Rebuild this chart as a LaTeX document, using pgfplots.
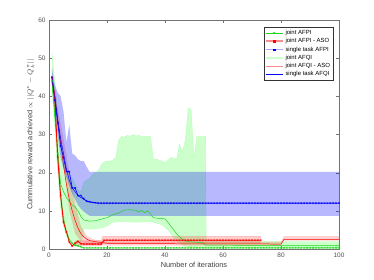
\documentclass[border=0pt]{standalone}
\usepackage{pgfplots}
\pgfplotsset{compat=1.18}
\usepackage{fontspec}
\setmainfont{Liberation Sans}
\definecolor{cgreen}{rgb}{0.1,0.85,0.1}
\definecolor{axgray}{rgb}{0.45,0.45,0.45}
\begin{document}
\begin{tikzpicture}
\begin{axis}[
  scale only axis, width=290bp, height=229bp,
  xmin=0, xmax=100, ymin=0, ymax=60,
  xtick={0,20,...,100}, ytick={0,10,...,60},
  tick align=inside, major tick length=3bp,
  axis line style={axgray}, tick style={axgray},
  /pgf/number format/assume math mode=true,
  tick label style={font=\fontsize{6.5}{7}\selectfont, text=axgray!70!black},
  label style={font=\fontsize{7.4}{8}\selectfont, text=black!75},
  xlabel={Number of iterations},
  ylabel={Cummulative reward achieved $\propto$ $||Q^{*} - Q^{\pi}_{k}||$},
  xlabel style={yshift=2bp}, ylabel style={yshift=-3bp},
  legend style={at={(rel axis cs:0.98,0.97)}, anchor=north east,
    font=\fontsize{6}{6.5}\selectfont, draw=black!80, inner sep=1pt, row sep=-1.5pt,
    legend cell align=left},
  every axis plot/.append style={forget plot},
]
% joint AFQI band (green)
\addplot[fill=green, fill opacity=0.2, draw=green!60, draw opacity=0.4, line width=0.3pt] coordinates {
(1,51.5)(2,44)(3,35)(4,28)(5,24)(6,21)(7,19.5)(8,18.5)(9,17)(10,15.5)(11,15)(12,17.5)(13,18)(14,18.5)(15,19.5)(16,20)(17,20.5)(18,22)(19,22.8)(20,23)(21,23)(22,23.3)(23,24)(24,28.5)(25,29.5)(26,29.3)(27,29.8)(28,29.5)(29,30)(30,29.6)(31,29.8)(32,29.4)(33,29.5)(34,29.5)(35,29.5)(36,23.5)(37,23.5)(38,23.3)(39,23)(40,22.6)(41,23.2)(42,24)(43,23.8)(44,23.5)(45,27.5)(46,25.5)(47,28.5)(48,37)(49,36.5)(50,24)(51,29.5)(52,29.5)(53,29.5)(54,29.5)(54.2,1.9)(100,1.9)
(100,0.3)(54,0.4)(50,0.5)(47,0.7)(45,1.5)(43,3)(41,5)(39,6.3)(37,6.8)(35,7.2)(30,7)(25,7.2)(22,7)(20,6)(18,5.5)(16,5.3)(14,5.2)(12,5.3)(11,1)(10,1)(9,1)(8,1.2)(7,2)(6,3.5)(5,6)(4,11)(3,20)(2,32)(1,42)};
% joint AFQI - ASO band (red)
\addplot[fill=red, fill opacity=0.18, draw=none] coordinates {
(1,46)(3,37)(5,29)(7,20)(9,12)(11,6)(13,3.5)(15,2.6)(18,2.2)(20,1.9)(80,1.9)(81,3.4)(100,3.4)
(100,2.2)(81,2.2)(80,0.9)(20,0.9)(13,1.2)(11,2)(9,4)(7,10)(5,22)(3,33)(1,44)};
% joint AFPI - ASO band (red)
\addplot[fill=red, fill opacity=0.2, draw=red!50, draw opacity=0.5, line width=0.3pt] coordinates {
(9,2.2)(18,2.2)(18.5,3.3)(73,3.3)(73,1.5)(18.5,1.5)(18,0.8)(9,0.8)};
% single task band (blue)
\addplot[fill=blue, fill opacity=0.28, draw=none] coordinates {
(1,47.5)(2,43)(3,41)(4,40)(5,36)(6,28)(7,32.5)(8,25)(9,24.5)(10,23.5)(11,23)(12,23)(13,21.5)(14,20.2)(100,20.2)
(100,8.7)(14,8.7)(13,9.2)(12,9.8)(11,10.5)(10,11.5)(9,13)(8,14.5)(7,16.5)(6,19)(5,21)(4,24)(3,30)(2,37)(1,43)};
% joint AFQI mean (green thin)
\addplot[cgreen, line width=0.5pt] coordinates {
(1,44)(2,36)(3,26)(4,17)(5,15)(6,13.5)(7,12.5)(8,11.5)(9,11)(10,10)(11,8.5)(12,7.6)(14,7.3)(16,7.4)(18,7.8)(20,8.2)(22,9)(24,9.4)(26,10.2)(28,10.3)(30,10.1)(31,9.7)(32,10.1)(33,9.5)(34,10)(35,9.2)(36,8.2)(38,8)(40,7.9)(41,7)(42,6)(43,5)(44,4)(45,3.2)(46,2.6)(47,2.1)(48,1.9)(50,1.8)(53,1.7)(54,1.0)(100,0.9)};
% joint AFQI - ASO mean (red thin)
\addplot[red, line width=0.5pt] coordinates {
(1,45)(2,40)(3,34)(4,28)(5,22)(6,17)(7,13)(8,10)(9,7.5)(10,5.5)(11,4)(12,3.2)(13,2.6)(14,2.2)(16,1.9)(18,1.7)(20,1.5)(30,1.4)(80,1.3)(81,2.5)(100,2.5)};
% single task AFQI mean (blue thin)
\addplot[blue, line width=0.5pt] coordinates {
(1,45)(2,40)(3,34)(4,29)(5,25)(6,21)(7,18)(8,16)(9,15)(10,14)(11,13.5)(12,13)(13,12.6)(14,12.3)(16,12.1)(18,12)(100,12)};
% joint AFPI (green marked)
\addplot[cgreen, line width=0.6pt, mark=x, mark size=1.1pt, mark options={line width=0.4pt}] table[row sep=\\] {
x y\\1 44\\2 35\\3 25\\4 14\\5 8\\6 4.5\\7 2.5\\8 1.5\\9 1\\10 0.8\\11 0.6\\12 0.3\\13 0.3\\14 0.3\\15 0.3\\16 0.3\\17 0.3\\18 0.3\\19 0.3\\20 0.3\\21 0.3\\22 0.3\\23 0.3\\24 0.3\\25 0.3\\26 0.3\\27 0.3\\28 0.3\\29 0.3\\30 0.3\\31 0.3\\32 0.3\\33 0.3\\34 0.3\\35 0.3\\36 0.3\\37 0.3\\38 0.3\\39 0.3\\40 0.3\\41 0.3\\42 0.3\\43 0.3\\44 0.3\\45 0.3\\46 0.3\\47 0.3\\48 0.3\\49 0.3\\50 0.3\\51 0.3\\52 0.3\\53 0.3\\54 0.3\\55 0.3\\56 0.3\\57 0.3\\58 0.3\\59 0.3\\60 0.3\\61 0.3\\62 0.3\\63 0.3\\64 0.3\\65 0.3\\66 0.3\\67 0.3\\68 0.3\\69 0.3\\70 0.3\\71 0.3\\72 0.3\\73 0.3\\74 0.3\\75 0.3\\76 0.3\\77 0.3\\78 0.3\\79 0.3\\80 0.3\\81 0.3\\82 0.3\\83 0.3\\84 0.3\\85 0.3\\86 0.3\\87 0.3\\88 0.3\\89 0.3\\90 0.3\\91 0.3\\92 0.3\\93 0.3\\94 0.3\\95 0.3\\96 0.3\\97 0.3\\98 0.3\\99 0.3\\100 0.3\\
};
% joint AFPI - ASO (red marked)
\addplot[red, line width=0.9pt, mark=x, mark size=1.1pt, mark options={line width=0.4pt}] table[row sep=\\] {
x y\\1 45\\2 39.5\\3 24\\4 14\\5 7\\6 4.5\\7 1.8\\8 0.8\\9 1.5\\10 2\\11 1.4\\12 1.3\\13 1.3\\14 1.3\\15 1.3\\16 1.3\\17 1.3\\18 1.3\\19 2.3\\20 2.3\\21 2.3\\22 2.3\\23 2.3\\24 2.3\\25 2.3\\26 2.3\\27 2.3\\28 2.3\\29 2.3\\30 2.3\\31 2.3\\32 2.3\\33 2.3\\34 2.3\\35 2.3\\36 2.3\\37 2.3\\38 2.3\\39 2.3\\40 2.3\\41 2.3\\42 2.3\\43 2.3\\44 2.3\\45 2.3\\46 2.3\\47 2.3\\48 2.3\\49 2.3\\50 2.3\\51 2.3\\52 2.3\\53 2.3\\54 2.3\\55 2.3\\56 2.3\\57 2.3\\58 2.3\\59 2.3\\60 2.3\\61 2.3\\62 2.3\\63 2.3\\64 2.3\\65 2.3\\66 2.3\\67 2.3\\68 2.3\\69 2.3\\70 2.3\\71 2.3\\72 2.3\\73 2.3\\
};
% single task AFPI (blue marked)
\addplot[blue, line width=0.6pt, mark=x, mark size=1.1pt, mark options={line width=0.4pt}] table[row sep=\\] {
x y\\1 45\\2 39\\3 33\\4 27\\5 24\\6 20.3\\7 20.3\\8 16\\9 16\\10 14\\11 14\\12 13.2\\13 12.5\\14 12.4\\15 12.2\\16 12.1\\17 12\\18 12\\19 12\\20 12\\21 12\\22 12\\23 12\\24 12\\25 12\\26 12\\27 12\\28 12\\29 12\\30 12\\31 12\\32 12\\33 12\\34 12\\35 12\\36 12\\37 12\\38 12\\39 12\\40 12\\41 12\\42 12\\43 12\\44 12\\45 12\\46 12\\47 12\\48 12\\49 12\\50 12\\51 12\\52 12\\53 12\\54 12\\55 12\\56 12\\57 12\\58 12\\59 12\\60 12\\61 12\\62 12\\63 12\\64 12\\65 12\\66 12\\67 12\\68 12\\69 12\\70 12\\71 12\\72 12\\73 12\\74 12\\75 12\\76 12\\77 12\\78 12\\79 12\\80 12\\81 12\\82 12\\83 12\\84 12\\85 12\\86 12\\87 12\\88 12\\89 12\\90 12\\91 12\\92 12\\93 12\\94 12\\95 12\\96 12\\97 12\\98 12\\99 12\\100 12\\
};
% legend
\addlegendimage{cgreen, line width=0.6pt, mark=x, mark size=1.1pt}
\addlegendentry{joint AFPI}
\addlegendimage{red!45, line width=1.6pt, mark=square*, mark size=0.8pt, mark options={red, fill=red}}
\addlegendentry{joint AFPI - ASO}
\addlegendimage{blue!35, line width=0.6pt, mark=square*, mark size=0.8pt, mark options={blue, fill=blue}}
\addlegendentry{single task AFPI}
\addlegendimage{green!20, line width=1.6pt}
\addlegendentry{joint AFQI}
\addlegendimage{red!45, line width=0.6pt}
\addlegendentry{joint AFQI - ASO}
\addlegendimage{blue, line width=0.6pt}
\addlegendentry{single task AFQI}
\end{axis}
\pgfresetboundingbox
\path (current axis.south west) ++(-49bp,-31bp) rectangle (current axis.north east);
\path (current axis.north east) ++(35bp,20bp);
\end{tikzpicture}
\end{document}
